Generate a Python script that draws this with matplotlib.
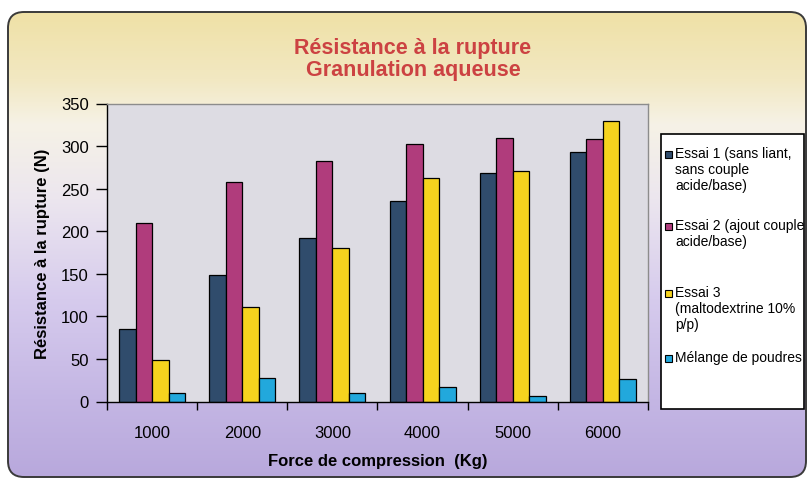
import numpy as np
import matplotlib
matplotlib.use("Agg")
import matplotlib.pyplot as plt
from matplotlib.colors import to_rgb
from matplotlib.patches import FancyBboxPatch, Rectangle

plt.rcParams["font.family"] = ["Liberation Sans", "DejaVu Sans"]

forces = ["1000", "2000", "3000", "4000", "5000", "6000"]
essai1 = [85, 149, 192, 235, 268, 293]
essai2 = [210, 258, 283, 302, 310, 308]
essai3 = [49, 111, 180, 263, 271, 329]
melange = [10, 28, 10, 17, 6, 26]

series_labels = [
    "Essai 1 (sans liant,\nsans couple\nacide/base)",
    "Essai 2 (ajout couple\nacide/base)",
    "Essai 3\n(maltodextrine 10%\np/p)",
    "Mélange de poudres",
]
series_colors = ["#304c6c", "#b03c7c", "#f6d31e", "#22a8dc"]

W, H = 811, 481
fig = plt.figure(figsize=(W / 100, H / 100), dpi=100)
fig.patch.set_facecolor("white")

# background layer in pixel coordinates (y going down)
bg = fig.add_axes([0, 0, 1, 1], zorder=-1)
bg.set_xlim(0, W)
bg.set_ylim(H, 0)
bg.axis("off")

stops = [(13, "#efe1a6"), (80, "#f2e8c2"), (125, "#f6f2e6"), (200, "#ece6ef"),
         (300, "#d6cbed"), (400, "#c4b6e4"), (478, "#b8a8dc")]
ys = np.arange(H)
grad = np.zeros((H, 1, 3))
for c in range(3):
    grad[:, 0, c] = np.interp(ys, [s[0] for s in stops], [to_rgb(s[1])[c] for s in stops])
im = bg.imshow(grad, extent=[0, W, H, 0], aspect="auto", interpolation="bilinear")
frame = FancyBboxPatch((8, 13), 798, 465, boxstyle="round,pad=0,rounding_size=16",
                       facecolor="none", edgecolor="#3a3a3a", linewidth=1.4)
bg.add_patch(frame)
im.set_clip_path(frame)

bg.text(413, 54, "Résistance à la rupture", color="#cc4242", fontsize=15.5,
        fontweight="bold", ha="center", va="baseline")
bg.text(413, 76, "Granulation aqueuse", color="#cc4242", fontsize=15.5,
        fontweight="bold", ha="center", va="baseline")

# main chart
ax = fig.add_axes([107 / W, 1 - 402.5 / H, 541 / W, 298 / H])
ax.set_facecolor("#dddce3")
x = np.arange(len(forces))
w = 0.183
for j, vals in enumerate([essai1, essai2, essai3, melange]):
    ax.bar(x + (j - 1.5) * w, vals, width=w, color=series_colors[j],
           edgecolor="black", linewidth=0.9, zorder=2)

ax.set_xlim(-0.5, len(forces) - 0.5)
ax.set_ylim(0, 350)
ax.set_yticks(np.arange(0, 351, 50))
ax.set_xticks(x)
ax.set_xticklabels(forces)
ax.set_xticks(np.arange(-0.5, len(forces)), minor=True)
ax.tick_params(axis="x", which="major", length=0, pad=17, labelsize=12)
ax.tick_params(axis="x", which="minor", length=6, width=1, direction="out")
ax.tick_params(axis="y", length=8, width=1, direction="out", pad=5, labelsize=12)
for side in ["left", "bottom"]:
    ax.spines[side].set_color("black")
    ax.spines[side].set_linewidth(1)
for side in ["top", "right"]:
    ax.spines[side].set_color("#8c8c8c")
    ax.spines[side].set_linewidth(1)

ax.set_xlabel("Force de compression  (Kg)", fontsize=12, fontweight="bold", labelpad=9)
ax.set_ylabel("Résistance à la rupture (N)", fontsize=12, fontweight="bold", labelpad=8)

# legend box
bg.add_patch(Rectangle((661, 135), 143, 275, facecolor="white", edgecolor="black",
                       linewidth=1.2, zorder=3))
entry_y = [155, 227, 294, 359]
for col, lab, ey in zip(series_colors, series_labels, entry_y):
    bg.add_patch(Rectangle((665, ey - 3.5), 7, 7, facecolor=col, edgecolor="black",
                           linewidth=0.8, zorder=4))
    bg.text(675, ey - 8, lab, fontsize=10, ha="left", va="top",
            linespacing=1.2, zorder=4)

fig.savefig("out.png", dpi=100)
